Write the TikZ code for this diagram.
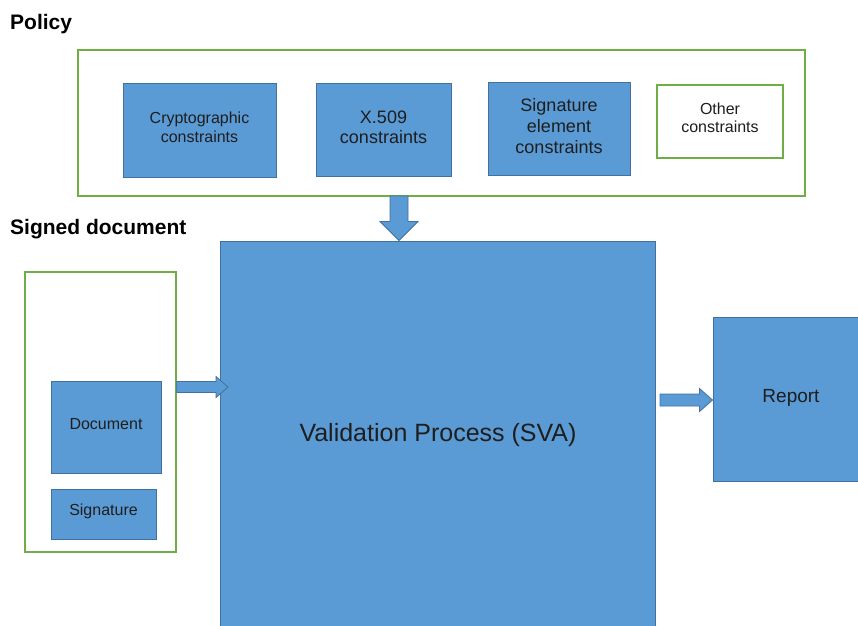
\documentclass[tikz,border=0pt]{standalone}
\usepackage{fontspec}
\setmainfont{Liberation Sans}
\usetikzlibrary{calc}
\definecolor{bfill}{HTML}{5B9BD5}
\definecolor{bline}{HTML}{41719C}
\definecolor{gline}{HTML}{70AD47}
\definecolor{txt}{HTML}{1E1E1E}
\begin{document}
\begin{tikzpicture}[x=1pt,y=-1pt,
  bluebox/.style={draw=bline,fill=bfill,line width=1pt,inner sep=0pt,rectangle},
  greenbox/.style={draw=gline,fill=white,line width=1.3pt,inner sep=0pt,rectangle},
  lbl/.style={text=txt,align=center,inner sep=0pt},
  heading/.style={text=black,font=\fontsize{21}{24}\selectfont\bfseries,anchor=west,inner sep=0pt},
  barrow/.style={draw=bline,fill=bfill,line width=0.8pt,line join=miter}]
\useasboundingbox (0,0) rectangle (858,625);
\fill[white] (0,0) rectangle (858,625);
% headings
\node[heading] (hpol) at (10,24) {Policy};
\node[heading] (hsig) at (10,229) {Signed document};
% policy
\node[greenbox,minimum width=727pt,minimum height=146pt] (policy) at (441.5,123) {};
\node[bluebox,minimum width=153pt,minimum height=94pt] (crypto) at (199.5,130) {};
\node[bluebox,minimum width=135pt,minimum height=93pt] (x509) at (383.5,129.5) {};
\node[bluebox,minimum width=142pt,minimum height=93pt] (sigel) at (559,128.5) {};
\node[greenbox,minimum width=126pt,minimum height=73pt] (other) at (720,121.5) {};
\node[lbl,font=\fontsize{16}{19}\selectfont] (cryptoT) at (199.5,127.5) {Cryptographic\\constraints};
\node[lbl,font=\fontsize{18}{20}\selectfont] (x509T) at (383.5,127) {X.509\\constraints};
\node[lbl,font=\fontsize{18}{21}\selectfont] (sigelT) at (559,126) {Signature\\element\\constraints};
\node[lbl,font=\fontsize{16}{18}\selectfont] (otherT) at (720,118) {Other\\constraints};
% signed document
\node[greenbox,minimum width=151pt,minimum height=280pt] (sd) at (100.5,412) {};
\node[bluebox,minimum width=110pt,minimum height=92pt] (doc) at (106,427) {};
\node[bluebox,minimum width=105pt,minimum height=50pt] (sig) at (103.5,514) {};
\node[lbl,font=\fontsize{16}{19}\selectfont] (docT) at (106,424) {Document};
\node[lbl,font=\fontsize{16}{19}\selectfont] (sigT) at (103.5,511) {Signature};
% validation process
\node[bluebox,minimum width=435pt,minimum height=391pt] (sva) at (437.5,436.5) {};
\node[lbl,font=\fontsize{25}{30}\selectfont] (svaT) at (438,435) {Validation Process (SVA)};
% report
\node[bluebox,minimum width=149pt,minimum height=164pt] (report) at (787.5,399) {};
\node[lbl,font=\fontsize{19}{22}\selectfont] (reportT) at (791,398) {Report};
% arrows
\coordinate (a1s) at (399,196);
\coordinate (a1e) at (a1s |- sva.north);
\draw[barrow] ($(a1s)+(-9,0)$) -- ($(a1e)+(-9,-19)$) -- ($(a1e)+(-19,-19)$) -- (a1e)
  -- ($(a1e)+(19,-19)$) -- ($(a1e)+(9,-19)$) -- ($(a1s)+(9,0)$) -- cycle;
\coordinate (a2s) at (sd.east |- 0,387);
\coordinate (a2e) at (228,387);
\draw[barrow] ($(a2s)+(0,-5.5)$) -- ($(a2e)+(-12,-5.5)$) -- ($(a2e)+(-12,-10.5)$) -- (a2e)
  -- ($(a2e)+(-12,10.5)$) -- ($(a2e)+(-12,5.5)$) -- ($(a2s)+(0,5.5)$) -- cycle;
\coordinate (a3s) at (660,400);
\coordinate (a3e) at (a3s -| report.west);
\draw[barrow] ($(a3s)+(0,-6)$) -- ($(a3e)+(-13,-6)$) -- ($(a3e)+(-13,-11.5)$) -- (a3e)
  -- ($(a3e)+(-13,11.5)$) -- ($(a3e)+(-13,6)$) -- ($(a3s)+(0,6)$) -- cycle;
\end{tikzpicture}
\end{document}
